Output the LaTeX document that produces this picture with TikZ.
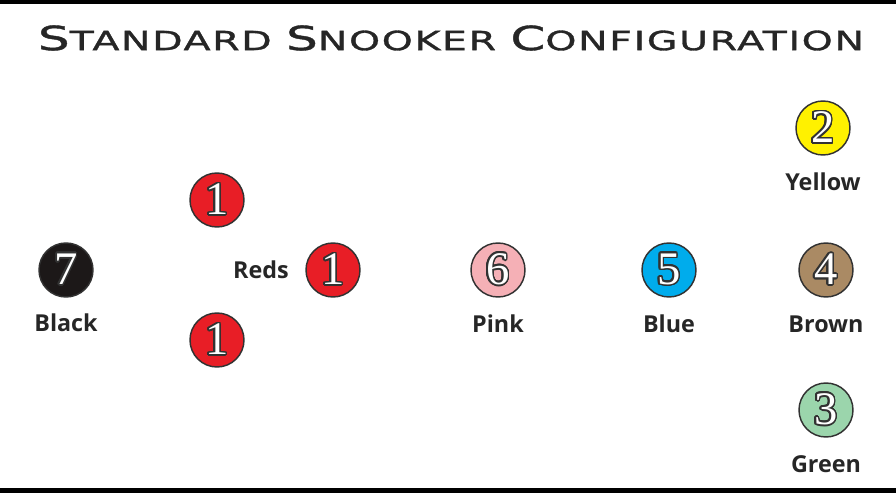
\documentclass[tikz,border=0pt]{standalone}
\usepackage{fontspec}
\usepackage[copies]{contour}
\setmainfont{Liberation Serif}
\newfontfamily\labelfont{Open Sans}
\newfontfamily\titlefont[FakeStretch=1.5,LetterSpace=6,FakeBold=1.2]{DejaVu Sans}
\contourlength{1.2pt}
\contournumber{24}

\definecolor{snkRed}{RGB}{232,30,38}
\definecolor{snkYellow}{RGB}{255,241,0}
\definecolor{snkGreen}{RGB}{155,213,172}
\definecolor{snkBrown}{RGB}{170,138,100}
\definecolor{snkBlue}{RGB}{0,172,236}
\definecolor{snkPink}{RGB}{245,176,182}
\definecolor{snkBlack}{RGB}{28,24,24}
\definecolor{rimGray}{RGB}{50,50,50}

\tikzset{every picture/.style={line width=0.75pt}}
\tikzset{
  ball/.style={circle, draw=rimGray, line width=1.1pt, minimum size=40.5pt, inner sep=0pt,
    font=\fontsize{35}{35}\selectfont},
  balltag/.style={inner sep=0pt, text=black!85, font=\labelfont\bfseries\fontsize{17.5}{20}\selectfont}
}
% white digit with dark outline
\newcommand{\ballnum}[1]{\textcolor{white}{\contour{rimGray}{#1}}}

\begin{document}
\begin{tikzpicture}[x=0.75pt,y=0.75pt,yscale=-1,xscale=1]
	%frame
	\path[use as bounding box] (0,0) rectangle (896,495);
	\fill[black] (0,0) rectangle (896,4);
	\fill[black] (0,488) rectangle (896,493);
	
	%title
	\node (title) at (451,38) {\resizebox{619.5pt}{!}{\titlefont\color{black!85}{\fontsize{24}{24}\selectfont S}{\fontsize{19}{19}\selectfont TANDARD}\hspace{5pt} {\fontsize{24}{24}\selectfont S}{\fontsize{19}{19}\selectfont NOOKER}\hspace{5pt} {\fontsize{24}{24}\selectfont C}{\fontsize{19}{19}\selectfont ONFIGURATION}}};
	
	%balls
	\node[ball, fill=snkBlack] (black) at (66,270) {\ballnum{7}};
	\node[ball, fill=snkRed] (redtop) at (217,200) {\ballnum{1}};
	\node[ball, fill=snkRed] (redmid) at (333,270) {\ballnum{1}};
	\node[ball, fill=snkRed] (redbot) at (217,340) {\ballnum{1}};
	\node[ball, fill=snkPink] (pink) at (498,270) {\ballnum{6}};
	\node[ball, fill=snkBlue] (blue) at (669,270) {\ballnum{5}};
	\node[ball, fill=snkBrown] (brown) at (826,270) {\ballnum{4}};
	\node[ball, fill=snkYellow] (yellow) at (823,128) {\ballnum{2}};
	\node[ball, fill=snkGreen] (green) at (826,410) {\ballnum{3}};
	
	%labels
	\node[balltag] (reds) at (261,270) {Reds};
	\node[balltag] (blacktag) at (66,323) {Black};
	\node[balltag] (pinktag) at (498,324) {Pink};
	\node[balltag] (bluetag) at (669,324) {Blue};
	\node[balltag] (browntag) at (826,324) {Brown};
	\node[balltag] (yellowtag) at (823,182) {Yellow};
	\node[balltag] (greentag) at (826,464) {Green};
	
\end{tikzpicture}
\end{document}
